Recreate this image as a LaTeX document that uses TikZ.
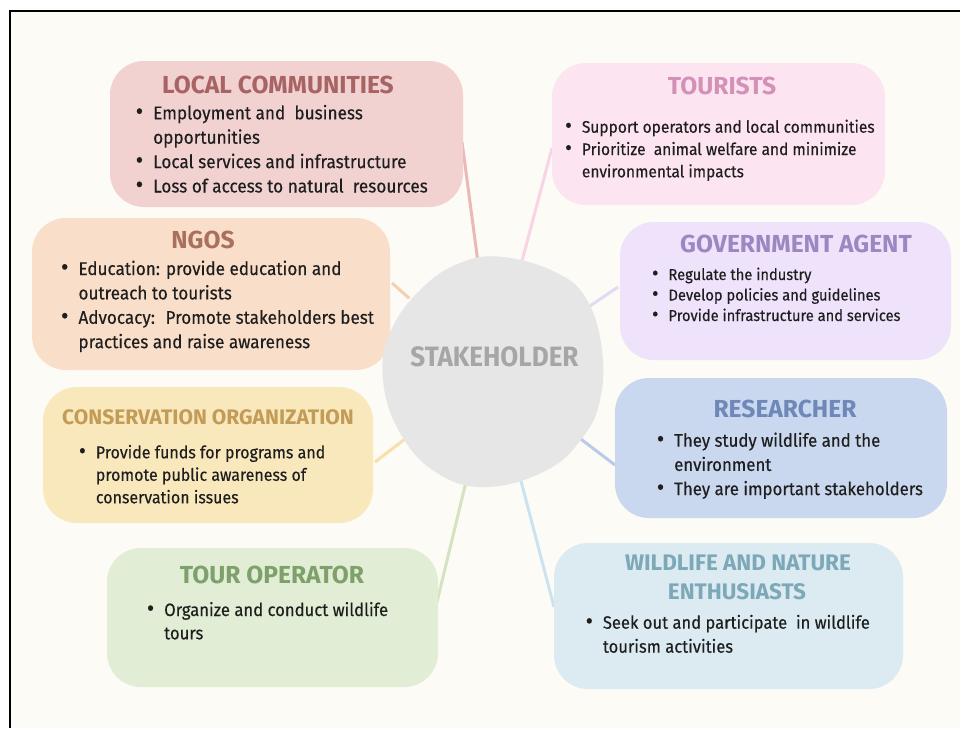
\documentclass[tikz,border=0pt]{standalone}
\usepackage{fontspec}
\setmainfont{Fira Sans}
\newfontfamily\headfont{Fira Sans}
\newfontfamily\hubfont[FakeStretch=0.93]{Fira Sans}
\newfontfamily\bodyfont[FakeStretch=0.93,FakeBold=0.3]{Fira Sans}

\definecolor{paper}{HTML}{FCFBF6}
\definecolor{ink}{HTML}{1E1E1E}
\definecolor{hubfill}{HTML}{E6E6E6}
\definecolor{hubtext}{HTML}{A6A6A6}
% fill / title / link colours of the eight groups
\definecolor{lcfill}{HTML}{F2D1D1}\definecolor{lctitle}{HTML}{A86464}\definecolor{lcline}{HTML}{EBB8B8}
\definecolor{trfill}{HTML}{FDE4F1}\definecolor{trtitle}{HTML}{D391B7}\definecolor{trline}{HTML}{FAD3E6}
\definecolor{ngfill}{HTML}{F9DFCA}\definecolor{ngtitle}{HTML}{A9705D}\definecolor{ngline}{HTML}{F6CFB0}
\definecolor{gvfill}{HTML}{EEE3FA}\definecolor{gvtitle}{HTML}{9A88C2}\definecolor{gvline}{HTML}{E5D8F7}
\definecolor{rsfill}{HTML}{C9D7EF}\definecolor{rstitle}{HTML}{6E88B7}\definecolor{rsline}{HTML}{B9CBEB}
\definecolor{cofill}{HTML}{FAE8BD}\definecolor{cotitle}{HTML}{C29B57}\definecolor{coline}{HTML}{F8E0A8}
\definecolor{tofill}{HTML}{E1EDD4}\definecolor{totitle}{HTML}{7EA06B}\definecolor{toline}{HTML}{D2E4C0}
\definecolor{wlfill}{HTML}{DCEBF1}\definecolor{wltitle}{HTML}{7CA8B8}\definecolor{wlline}{HTML}{CBE3EE}

\newcommand\bul{\leavevmode\llap{\raisebox{-0.02em}{\scalebox{1.35}{\textbullet}}\hspace{10pt}}}
% bullet list whose baseline is that of its first line
\newcommand\blist[3]{\begin{minipage}[t]{330pt}\raggedright\fontsize{#1}{#2}\selectfont #3\end{minipage}}

\tikzset{
  blob/.style={rectangle, rounded corners=34pt, inner sep=0pt, draw=none},
  head/.style={anchor=base, inner sep=0pt, font=\headfont\bfseries\fontsize{24.6}{25}\selectfont},
  smallhead/.style={anchor=base, inner sep=0pt, font=\headfont\bfseries\fontsize{21}{21}\selectfont},
  body/.style={anchor=base west, inner sep=0pt, text=ink, font=\bodyfont},
  link/.style={line width=3pt},
}

\begin{document}
\begin{tikzpicture}[x=1pt,y=-1pt]
\useasboundingbox (0,0) rectangle (960,728);
\fill[white] (0,0) rectangle (960,728);
\fill[paper] (10,11) rectangle (960,728);
\draw[line width=1.6pt] (10,728) -- (10,11) -- (960,11);

% hub node used as the target of the links
\node[circle, minimum size=222pt, inner sep=0pt] (stake) at (492.5,372) {};

% link start points on the group boxes
\coordinate (lcA) at (462,142);
\coordinate (trA) at (552,148);
\coordinate (ngA) at (392,283);
\coordinate (gvA) at (618,287);
\coordinate (rsA) at (615,465);
\coordinate (coA) at (375,462);
\coordinate (toA) at (437,602);
\coordinate (wlA) at (554,607);

\draw[link, lcline] (lcA) -- (stake);
\draw[link, trline] (trA) -- (stake);
\draw[link, ngline] (ngA) -- (stake);
\draw[link, gvline] (gvA) -- (stake);
\draw[link, rsline] (rsA) -- (stake);
\draw[link, coline] (coA) -- (stake);
\draw[link, toline] (toA) -- (stake);
\draw[link, wlline] (wlA) -- (stake);

% group boxes
\node[blob, fill=lcfill, minimum width=353pt, minimum height=146pt] (lc) at (286.5,134) {};
\node[blob, fill=trfill, minimum width=333pt, minimum height=142pt] (tr) at (718.5,134) {};
\node[blob, fill=ngfill, minimum width=358pt, minimum height=152pt] (ng) at (211,294) {};
\node[blob, fill=gvfill, minimum width=331pt, minimum height=138pt] (gv) at (785.5,291) {};
\node[blob, fill=rsfill, minimum width=332pt, minimum height=140pt] (rs) at (781,448) {};
\node[blob, fill=cofill, minimum width=330pt, minimum height=136pt] (co) at (208,455) {};
\node[blob, fill=tofill, minimum width=331pt, minimum height=139pt] (to) at (272.5,617.5) {};
\node[blob, fill=wlfill, minimum width=349pt, minimum height=146pt] (wl) at (728.5,616) {};

% hub
\fill[hubfill] plot[smooth cycle, tension=0.7] coordinates {
  (503,257) (557,273) (587,300) (602,350) (600,400) (583,437) (547,470)
  (487,487) (437,473) (400,433) (383,380) (390,333) (420,290) (460,263)};
\node[anchor=base, inner sep=0pt, text=hubtext, font=\hubfont\bfseries\fontsize{28}{28}\selectfont] (hubT) at (494.5,366) {STAKEHOLDER};

% titles
\node[head, text=lctitle] (lcH) at (278,93) {LOCAL COMMUNITIES};
\node[head, text=trtitle] (trH) at (722,94) {TOURISTS};
\node[head, text=ngtitle] (ngH) at (203,248) {NGOS};
\node[head, text=gvtitle] (gvH) at (796,252) {GOVERNMENT AGENT};
\node[head, text=rstitle] (rsH) at (785,417) {RESEARCHER};
\node[smallhead, text=cotitle] (coH) at (208,424) {CONSERVATION ORGANIZATION};
\node[head, text=totitle] (toH) at (272,583) {TOUR OPERATOR};
\node[smallhead, text=wltitle, font=\headfont\bfseries\fontsize{22.5}{22.5}\selectfont] (wlH) at (738,570) {WILDLIFE AND NATURE};
\node[smallhead, text=wltitle, font=\headfont\bfseries\fontsize{22.5}{22.5}\selectfont] (wlH2) at (737,599) {ENTHUSIASTS};

% bullet lists
\node[body] (lcB) at (153,119.3) {\blist{18.5}{24.4}{%
  \bul Employment and~ business\\
  opportunities\\
  \bul Local services and infrastructure\\
  \bul Loss of access to natural~ resources}};
\node[body] (trB) at (581.7,132.7) {\blist{16.7}{22.3}{%
  \bul Support operators and local communities\\
  \bul Prioritize~ animal welfare and minimize\\
  environmental impacts}};
\node[body] (ngB) at (78.3,275) {\blist{18.4}{24.4}{%
  \bul Education: provide education and\\
  outreach to tourists\\
  \bul Advocacy:~ Promote stakeholders best\\
  practices and raise awareness}};
\node[body] (gvB) at (668.3,280) {\blist{15.8}{20.5}{%
  \bul Regulate the industry\\
  \bul Develop policies and guidelines\\
  \bul Provide infrastructure and services}};
\node[body] (rsB) at (674,446.7) {\blist{18.1}{24.2}{%
  \bul They study wildlife and the\\
  environment\\
  \bul They are important stakeholders}};
\node[body] (coB) at (95.7,458.3) {\blist{17.2}{22.5}{%
  \bul Provide funds for programs and\\
  promote public awareness of\\
  conservation issues}};
\node[body] (toB) at (164,616) {\blist{17.9}{23.3}{%
  \bul Organize and conduct wildlife\\
  tours}};
\node[body] (wlB) at (602.7,628.7) {\blist{17.8}{24}{%
  \bul Seek out and participate~ in wildlife\\
  tourism activities}};
\end{tikzpicture}
\end{document}
